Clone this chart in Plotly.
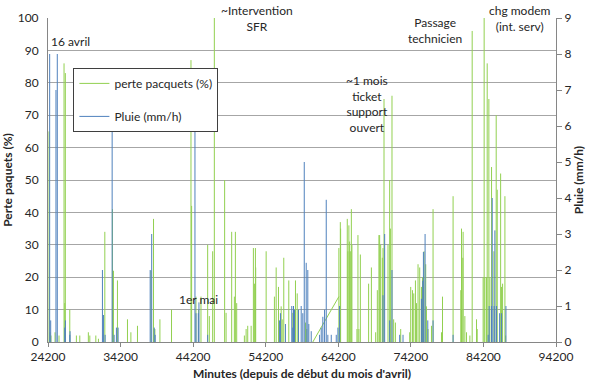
import plotly.graph_objects as go

# ---- data ----
# packet loss spikes: minute, percent
perte_min = [24340, 24480, 24610, 25170, 25720, 26410, 26510, 26590, 27200, 28110,
             28580, 29760, 29960, 30790, 31150, 32030, 33080, 33220, 33770, 35150,
             35620, 36530, 38380, 38740, 38930, 39620, 41220, 43900, 43990, 44590,
             44950, 45280, 46430, 46200, 46890, 47120, 48540, 48740, 49510, 49880,
             50020, 50200, 51260, 51500, 51720, 52190, 52500, 52640, 52780, 52820,
             54260, 55400, 55640, 55960, 56330, 56470, 56690, 57380, 57930, 58300,
             58540, 59680, 59860, 64280, 64480, 64520, 65440, 65525, 65660, 65760,
             65860, 66000, 66080, 66770, 66910, 67040, 67240, 68380, 68760, 69350,
             69580, 69800, 69900, 70040, 70270, 70360, 70500, 71050, 71280, 71380,
             71600, 71830, 72070, 72800, 74040, 74180, 74420, 74600, 74830, 74970,
             75190, 75420, 75660, 75800, 76020, 76250, 76350, 76570, 77040, 77260,
             78420, 78560, 80020, 81080, 81180, 81360, 81400, 81640, 81870, 82330,
             82650, 83250, 83340, 84160, 84300, 84400, 84630, 84720, 84950, 85090,
             85320, 85640, 85960, 86100, 86570, 86700, 86840, 87160, 87260]
perte_val = [65, 3, 2, 3, 2, 86, 12, 83, 10, 2,
             2, 3, 2, 2, 1, 34, 41, 22, 19, 7,
             3, 5, 22, 38, 4, 7, 10, 87, 42, 14,
             10, 14, 8, 30, 28, 100, 50, 9, 34, 14,
             34, 12, 2, 4, 5, 5, 29, 18, 29, 23,
             28, 14, 23, 17, 11, 7, 26, 19, 9, 19,
             15, 6, 4, 29, 37, 35, 38, 28, 36, 31,
             28, 41, 30, 4, 33, 4, 27, 18, 23, 3,
             16, 33, 33, 30, 26, 29, 75, 30, 50, 35,
             76, 7, 6, 4, 3, 17, 16, 15, 19, 12,
             24, 23, 17, 20, 28, 24, 11, 4, 5, 41,
             3, 14, 45, 16, 35, 26, 34, 8, 3, 2,
             96, 7, 4, 20, 100, 20, 20, 86, 75, 20,
             54, 28, 70, 47, 52, 17, 18, 45, 2]
# straight segment across a data gap (perte)
gap_min = [60690, 64280]
gap_val = [0, 14]

# rain spikes: minute, mm/h
pluie_min = [24430, 24570, 25300, 25480, 26500, 26600, 27200, 27240, 31700, 31840,
             32070, 33040, 33310, 33630, 33860, 38280, 38490, 38840, 38970, 44450,
             44590, 44910, 45000, 46200, 56090, 56230, 56920, 57790, 57930, 58030,
             58170, 58720, 59090, 59310, 59510, 59780, 60000, 60140, 60470, 61620,
             61850, 62070, 62310, 62540, 62760, 63230, 63920, 64150, 64380, 70360,
             70590, 71280, 71600, 72660, 73120, 75660, 75840, 75930, 76160, 76530,
             77260, 80020, 84850, 84990, 85320, 85410, 85680, 85780, 86010, 86430,
             86700, 87300]
pluie_val = [8.0, 0.6, 7.0, 8.0, 0.4, 0.6, 0.2, 0.3, 2.0, 0.75,
             0.2, 6.2, 0.2, 0.4, 0.4, 2.0, 3.0, 0.4, 0.2, 6.2,
             0.8, 0.8, 1.1, 0.2, 0.6, 0.8, 0.5, 1.0, 0.4, 1.0,
             0.9, 0.9, 1.0, 0.8, 5.0, 2.2, 2.0, 0.5, 0.3, 0.2,
             0.4, 0.7, 0.9, 3.95, 0.2, 0.2, 0.2, 0.4, 1.0, 1.3,
             3.0, 0.6, 2.0, 0.2, 0.2, 1.2, 1.7, 2.5, 3.0, 0.6,
             0.6, 0.2, 0.2, 1.0, 1.0, 4.0, 1.0, 3.1, 1.0, 0.8,
             0.8, 1.0]

x_ticks = [24200, 34200, 44200, 54200, 64200, 74200, 84200, 94200]

GREEN = "#92D050"
BLUE = "#4F81BD"
FONT = "Lato"
TXT = "#262626"


def stems(xs, ys):
    sx, sy = [], []
    for m, v in zip(xs, ys):
        sx += [m, m, None]
        sy += [0, v, None]
    return sx, sy


gx, gy = stems(perte_min, perte_val)
bx, by = stems(pluie_min, pluie_val)

fig = go.Figure()
fig.add_trace(go.Scatter(x=gx, y=gy, mode="lines", name="perte pacquets (%)",
                         line=dict(color=GREEN, width=1), legendgroup="a"))
fig.add_trace(go.Scatter(x=gap_min, y=gap_val, mode="lines", showlegend=False,
                         line=dict(color=GREEN, width=1), legendgroup="a"))
fig.add_trace(go.Scatter(x=bx, y=by, mode="lines", name="Pluie (mm/h)", yaxis="y2",
                         line=dict(color=BLUE, width=1), legendgroup="b"))

annots = [
    ("16 avril", 24350, 92.9, "left"),
    ("~Intervention<br>SFR", 53057, 99.7, "center"),
    ("1er mai", 44910, 13.0, "center"),
    ("~1 mois<br>ticket<br>support<br>ouvert", 68106, 73.5, "center"),
    ("Passage<br>technicien", 77495, 96.1, "center"),
    ("chg modem<br>(int. serv)", 89231, 99.7, "center"),
]
for t, x, y, al in annots:
    fig.add_annotation(text=t, x=x, y=y, xref="x", yref="y", showarrow=False,
                       xanchor=al, yanchor="middle", align="center",
                       font=dict(family=FONT, size=12, color=TXT))

fig.update_layout(
    width=599, height=390,
    margin=dict(l=48, r=43, t=18, b=48),
    paper_bgcolor="white", plot_bgcolor="white",
    font=dict(family=FONT, size=12, color=TXT),
    showlegend=True,
    legend=dict(x=0.05, y=0.846, xanchor="left", yanchor="top",
                bgcolor="white", bordercolor="#3f3f3f", borderwidth=1,
                font=dict(family=FONT, size=12, color=TXT),
                traceorder="grouped", tracegroupgap=14),
    xaxis=dict(range=[24200, 94200], tickvals=x_ticks, tickformat="d",
               ticks="outside", ticklen=4, automargin=False,
               tickcolor="#868686", showline=True, linecolor="#868686", showgrid=False,
               zeroline=False,
               title=dict(text="<b>Minutes (depuis de début du mois d'avril)</b>",
                          font=dict(family=FONT, size=12, color=TXT), standoff=6)),
    yaxis=dict(range=[0, 100], dtick=10, showgrid=True, gridcolor="#A6A6A6", gridwidth=1,
               showline=True, linecolor="#868686", ticks="", zeroline=False,
               ticklabelstandoff=6, automargin=False,
               title=dict(text="<b>Perte paquets (%)</b>",
                          font=dict(family=FONT, size=12, color=TXT), standoff=4)),
    yaxis2=dict(range=[0, 9], dtick=1, overlaying="y", side="right", showgrid=False,
                showline=True, linecolor="#868686", ticks="outside", ticklen=5,
                tickcolor="#868686", zeroline=False, automargin=False,
                title=dict(text="<b>Pluie (mm/h)</b>",
                           font=dict(family=FONT, size=12, color=TXT), standoff=4)),
)

fig.write_html("out.html", config={"displayModeBar": False},
               post_script="document.body.style.margin='0px';")
